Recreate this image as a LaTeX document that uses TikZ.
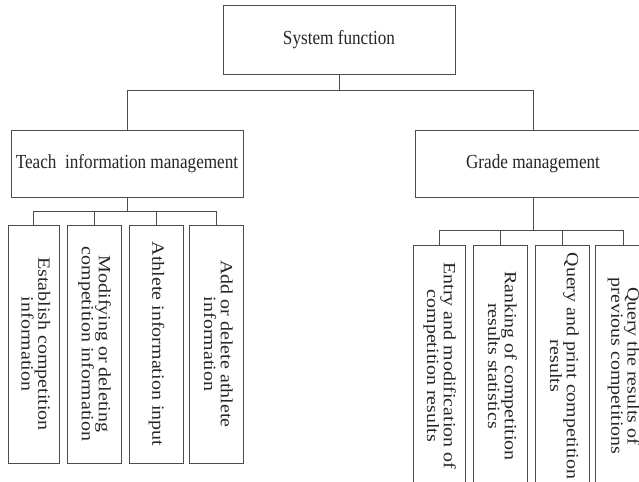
\documentclass[tikz,border=0pt]{standalone}
\usepackage{fontspec}
\setmainfont{Liberation Serif}
\usepackage{graphicx}
\usepackage{tikz}
\usetikzlibrary{positioning, calc}

% squeezed text, as in the original figure
\newcommand{\sqz}[1]{\scalebox{0.86}[1]{#1}}
\newcommand{\vlabel}[1]{\scalebox{0.86}[1]{\rotatebox{-90}{\begin{tabular}{@{}c@{}}#1\end{tabular}}}}

\begin{document}
\begin{tikzpicture}[
  every node/.style={font=\fontsize{14.2}{13.5}\selectfont, text=black!85},
  func/.style={rectangle, draw=black!70, line width=0.6pt, fill=white, inner sep=0pt},
  leaf/.style={func, minimum height=5.95cm},
  leafr/.style={func, minimum height=6.05cm},
  link/.style={draw=black!70, line width=0.6pt},
]
  \useasboundingbox (0,0) rectangle (15.975,-12.05);
  \clip (0,0) rectangle (15.975,-12.05);

  % Top level
  \node[func, minimum width=5.8cm, minimum height=1.725cm] (sys) at (8.475,-0.9875) {\sqz{System function}};

  % Second level
  \node[func, minimum width=5.8cm, minimum height=1.675cm] (teach) at (3.175,-4.0875) {\sqz{Teach\ \ information management}};
  \node[func, minimum width=5.9cm, minimum height=1.675cm] (grade) at (13.325,-4.0875) {\sqz{Grade management}};

  % Teach information management
  \node[leaf, minimum width=1.275cm] (est) at (0.8375,-8.6) {\vlabel{Establish competition\\information}};
  \node[leaf, minimum width=1.35cm] (mod) at (2.35,-8.6) {\vlabel{Modifying or deleting\\competition information}};
  \node[leaf, minimum width=1.35cm] (ath) at (3.9,-8.6) {\vlabel{Athlete information input}};
  \node[leaf, minimum width=1.35cm] (add) at (5.4,-8.6) {\vlabel{Add or delete athlete\\information}};

  % Grade management
  \node[leafr, minimum width=1.3cm] (entry) at (10.975,-9.15) {\vlabel{Entry and modification of\\competition results}};
  \node[leafr, minimum width=1.35cm] (rank) at (12.5,-9.15) {\vlabel{Ranking of competition\\results statistics}};
  \node[leafr, minimum width=1.35cm] (print) at (14.05,-9.15) {\vlabel{Query and print competition\\results}};
  \node[leafr, minimum width=1.4cm] (prev) at (15.575,-9.15) {\vlabel{Query the results of\\previous competitions}};

  % Connections
  \draw[link] (sys.south) -- ++(0,-0.41) -| (teach.north);
  \draw[link] (sys.south) -- ++(0,-0.41) -| (grade.north);
  \foreach \n in {est, mod, ath, add}
    \draw[link] (teach.south) -- ++(0,-0.35) -| (\n.north);
  \foreach \n in {entry, rank, print, prev}
    \draw[link] (grade.south) -- ++(0,-0.825) -| (\n.north);
\end{tikzpicture}
\end{document}
